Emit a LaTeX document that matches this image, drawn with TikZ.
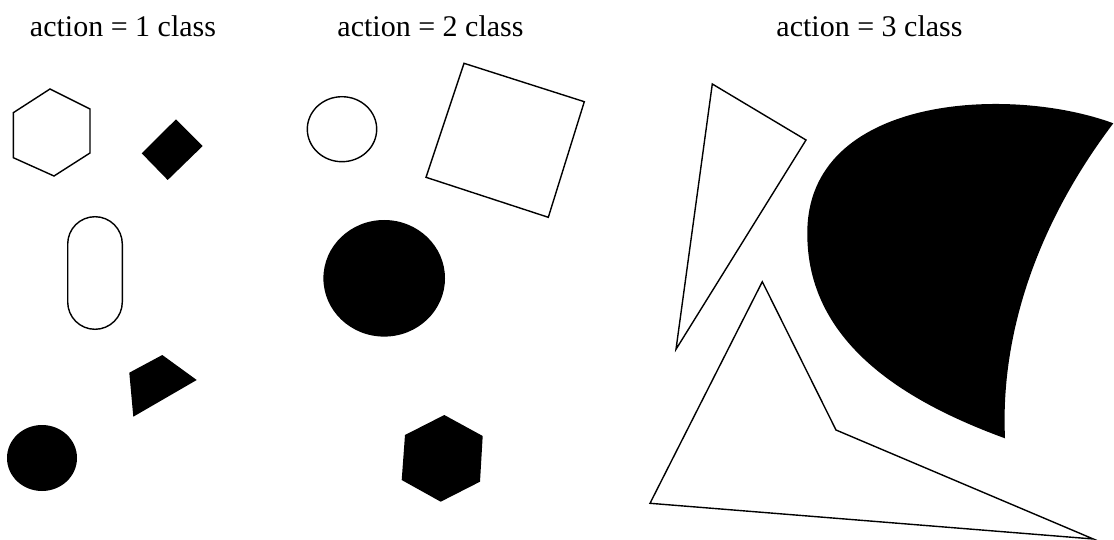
\documentclass[tikz,border=0pt]{standalone}
\usepackage{fontspec}
\setmainfont{Liberation Serif}
\begin{document}
\begin{tikzpicture}[x=1pt,y=-1pt,
  outl/.style={draw=black,line width=1.4pt,line join=miter,fill=white},
  solid/.style={fill=black,draw=none},
  lbl/.style={font=\fontsize{30}{34}\selectfont,anchor=base,inner sep=0pt}]
\useasboundingbox (0,0) rectangle (1114,540);
% labels
\node[lbl] (l1) at (123,37) {action = 1 class};
\node[lbl] (l2) at (430.5,37) {action = 2 class};
\node[lbl] (l3) at (869.5,37) {action = 3 class};
% class 1
\draw[outl] (50,89) -- (90,109) -- (90,153) -- (54,176) -- (13.3,157.7) -- (13.3,112.7) -- cycle;
\fill[solid] (176,119.3) -- (202.7,146) -- (167.7,180) -- (141.7,153.3) -- cycle;
\draw[outl,rounded corners=27.3pt] (67.7,216.7) rectangle (122.3,329.3);
\fill[solid] (162.3,355) -- (196.7,380) -- (133.3,416.7) -- (129.3,372.7) -- cycle;
\fill[solid] (42,458) ellipse [x radius=35, y radius=33];
% class 2
\draw[outl] (342,129.2) ellipse [x radius=34.7, y radius=32.5];
\draw[outl] (464,63.3) -- (584.3,101.7) -- (548.3,217.3) -- (426,177.3) -- cycle;
\fill[solid] (384.2,278.3) ellipse [x radius=60.8, y radius=58.3];
\fill[solid] (444.3,415) -- (482.7,436) -- (480,481.7) -- (440.7,501.7) -- (401.7,480) -- (405,435) -- cycle;
% class 3
\draw[outl] (712.3,84) -- (806,140) -- (676,349.3) -- cycle;
\draw[outl] (762.3,281.7) -- (836,430) -- (1093.3,539) -- (650,503.3) -- cycle;
\fill[solid] (1113.3,123.3) .. controls (1010,85) and (807,95) .. (807.3,233.3)
  .. controls (807,340) and (900,400) .. (1005,438.3)
  .. controls (1000,330) and (1040,220) .. (1113.3,123.3) -- cycle;
\end{tikzpicture}
\end{document}
